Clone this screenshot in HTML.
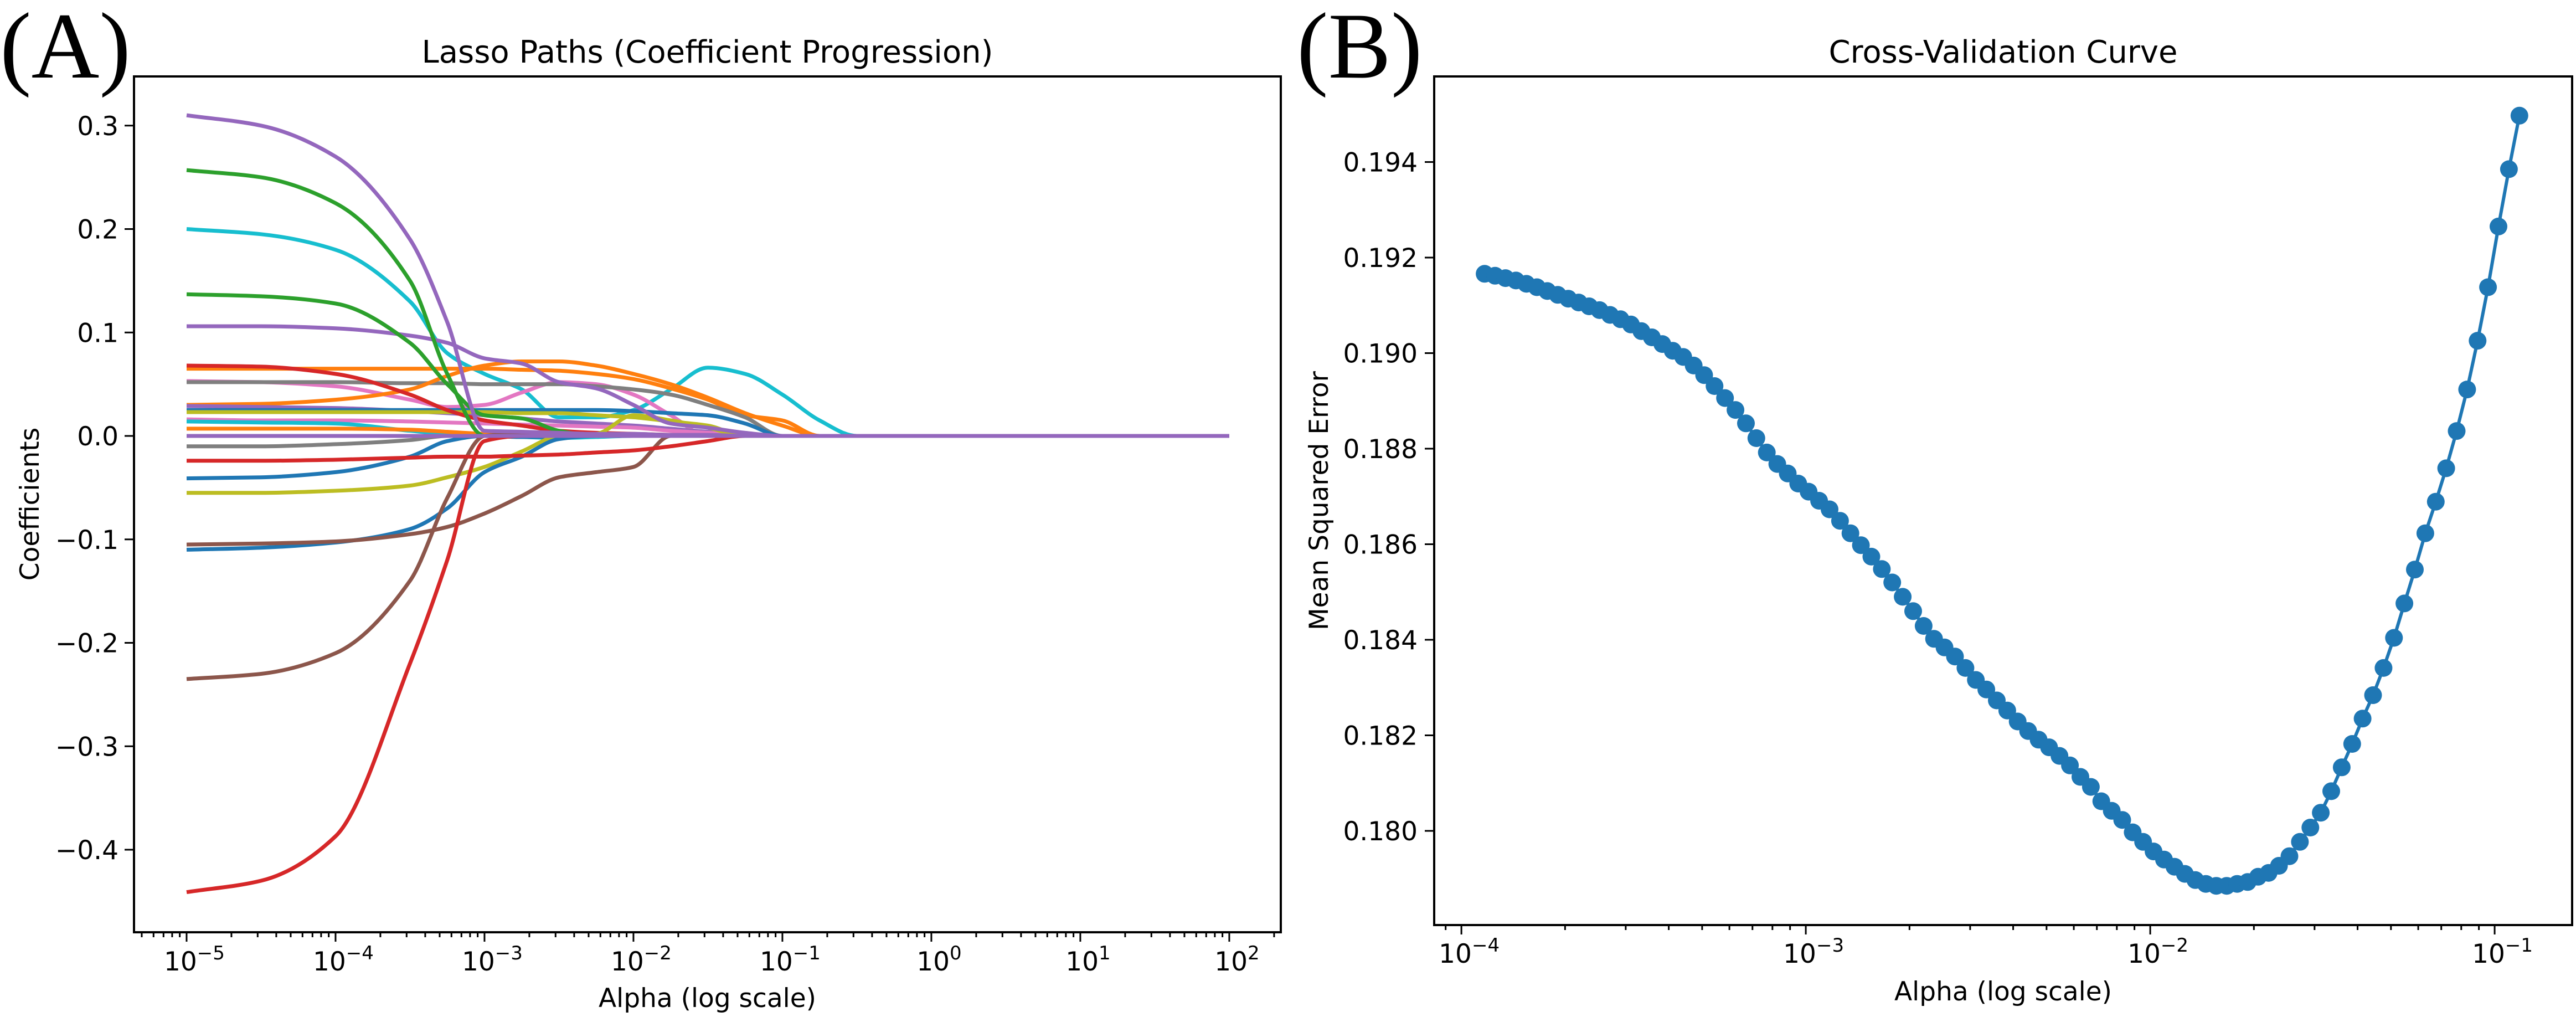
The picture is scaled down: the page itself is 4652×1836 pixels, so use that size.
<!DOCTYPE html>
<html><head><meta charset="utf-8"><style>
html,body{margin:0;padding:0;background:#fff}
svg{display:block}
text{font-family:"DejaVu Sans","Liberation Sans",sans-serif;fill:#000}
</style></head><body>
<svg id="fig" width="4652" height="1836" viewBox="0 0 4652 1836" xmlns="http://www.w3.org/2000/svg">
<rect width="4652" height="1836" fill="#fff"/>
<text x="0" y="140" style="font-family:'Liberation Serif',serif;font-size:170px">(A)</text>
<text x="2342" y="140" style="font-family:'Liberation Serif',serif;font-size:170px">(B)</text>
<g id="pa"></g>
<g id="pb"></g>
</svg>
<script>
// ---------- Panel A data ----------
const lassoLogAlpha = [-5,-4.5,-4,-3.5,-3.25,-3,-2.75,-2.5,-2.25,-2,-1.75,-1.5,-1.25,-1,-0.75,-0.5,-0.25,2];
const lassoColors = ["#17becf","#e377c2","#ff7f0e","#7f7f7f","#ff7f0e","#9467bd","#1f77b4","#bcbd22","#e377c2","#17becf","#ff7f0e","#2ca02c","#7f7f7f","#d62728","#1f77b4","#bcbd22","#1f77b4","#8c564b","#8c564b","#d62728","#d62728","#9467bd","#2ca02c","#2ca02c","#9467bd","#9467bd"];
const lassoSeries = [
 [0.20,0.195,0.18,0.13,0.08,0.06,0.045,0.018,0.018,0.025,0.045,0.066,0.06,0.04,0.015,0,0,0],
 [0.053,0.052,0.048,0.035,0.028,0.03,0.042,0.052,0.05,0.04,0.02,0,0,0,0,0,0,0],
 [0.065,0.065,0.065,0.065,0.065,0.065,0.064,0.063,0.06,0.055,0.046,0.035,0.02,0.015,0,0,0,0],
 [0.052,0.052,0.052,0.051,0.051,0.05,0.05,0.05,0.048,0.045,0.04,0.03,0.018,0,0,0,0,0],
 [0.03,0.031,0.035,0.045,0.058,0.068,0.072,0.072,0.068,0.06,0.05,0.037,0.022,0.01,0,0,0,0],
 [0.029,0.028,0.027,0.024,0.022,0.02,0.017,0.014,0.012,0.01,0.007,0.004,0.002,0,0,0,0,0],
 [0.025,0.025,0.025,0.025,0.025,0.025,0.025,0.025,0.025,0.024,0.022,0.02,0.012,0,0,0,0,0],
 [0.023,0.023,0.023,0.023,0.023,0.023,0.022,0.022,0.02,0.018,0.014,0.01,0,0,0,0,0,0],
 [0.016,0.015,0.015,0.014,0.013,0.012,0.011,0.01,0.009,0.008,0.005,0.003,0.001,0,0,0,0,0],
 [0.014,0.013,0.012,0.005,0.002,0,-0.001,-0.002,-0.001,0,0,0,0,0,0,0,0,0],
 [0.007,0.007,0.007,0.006,0.004,0.002,0.001,0,0,0,0,0,0,0,0,0,0,0],
 [0,0,0,0,0,0,0,0,0,0,0,0,0,0,0,0,0,0],
 [-0.01,-0.01,-0.008,-0.004,0,0,0,0,0,0,0,0,0,0,0,0,0,0],
 [0.068,0.067,0.06,0.04,0.025,0.015,0.01,0.005,0.003,0.002,0.001,0,0,0,0,0,0,0],
 [-0.041,-0.04,-0.035,-0.02,-0.005,0,-0.001,-0.001,0,0,0,0,0,0,0,0,0,0],
 [-0.055,-0.055,-0.053,-0.048,-0.04,-0.03,-0.015,0,0.002,0.02,0.015,0.008,0,0,0,0,0,0],
 [-0.11,-0.108,-0.103,-0.09,-0.07,-0.035,-0.02,-0.003,0,0,0,0,0,0,0,0,0,0],
 [-0.105,-0.104,-0.102,-0.095,-0.088,-0.075,-0.058,-0.04,-0.035,-0.03,0,0,0,0,0,0,0,0],
 [-0.235,-0.23,-0.21,-0.14,-0.06,0,0.002,0.002,0,0,0,0,0,0,0,0,0,0],
 [-0.024,-0.024,-0.023,-0.021,-0.02,-0.02,-0.019,-0.018,-0.016,-0.014,-0.01,-0.005,0,0,0,0,0,0],
 [-0.441,-0.43,-0.387,-0.22,-0.12,-0.005,0,0,0,0,0,0,0,0,0,0,0,0],
 [0.106,0.106,0.104,0.097,0.09,0.075,0.07,0.052,0.046,0.03,0.012,0.008,0.003,0,0,0,0,0],
 [0.137,0.135,0.128,0.09,0.05,0.02,0.017,0.005,0,0,0,0,0,0,0,0,0,0],
 [0.257,0.25,0.225,0.15,0.06,0,0,0,0,0,0,0,0,0,0,0,0,0],
 [0.31,0.30,0.27,0.19,0.11,0.005,0.004,0.003,0.002,0.002,0.001,0.001,0,0,0,0,0,0],
 [0,0,0,0,0,0,0,0,0,0,0,0,0,0,0,0,0,0]
];
const lassoYTicks = [0.3,0.2,0.1,0.0,-0.1,-0.2,-0.3,-0.4];
const lassoYTickLabels = ["0.3","0.2","0.1","0.0","\u22120.1","\u22120.2","\u22120.3","\u22120.4"];
const lassoXTickExps = [-5,-4,-3,-2,-1,0,1,2];
const lassoXTickLabels = ["\u22125","\u22124","\u22123","\u22122","\u22121","0","1","2"];

// ---------- Panel B data ----------
const cvAlphaStart = 1.168e-4, cvAlphaEnd = 0.118;
const cvMSE = [0.19166,0.19162,0.19157,0.19152,0.19145,0.19138,0.19130,0.19122,0.19114,0.19106,
0.19098,0.19090,0.19080,0.19071,0.19060,0.19046,0.19033,0.19019,0.19005,0.18992,
0.18974,0.18954,0.18931,0.18906,0.18881,0.18853,0.18822,0.18792,0.18768,0.18748,
0.18727,0.18710,0.18691,0.18673,0.18649,0.18623,0.18598,0.18574,0.18548,0.18520,
0.18490,0.18460,0.18429,0.18402,0.18384,0.18365,0.18341,0.18316,0.18296,0.18273,
0.18252,0.18229,0.18209,0.18191,0.18175,0.18157,0.18137,0.18113,0.18092,0.18062,
0.18042,0.18023,0.17997,0.17977,0.17957,0.17940,0.17925,0.17910,0.17897,0.17889,
0.17885,0.17885,0.17889,0.17893,0.17904,0.17912,0.17927,0.17947,0.17977,0.18007,
0.18038,0.18083,0.18133,0.18182,0.18235,0.18284,0.18341,0.18404,0.18476,0.18547,
0.18623,0.18689,0.18759,0.18837,0.18924,0.19026,0.19138,0.19265,0.19385,0.19497];
const cvYTicks = [0.180,0.182,0.184,0.186,0.188,0.190,0.192,0.194];
const cvYTickLabels = ["0.180","0.182","0.184","0.186","0.188","0.190","0.192","0.194"];
const cvXTickExps = [-4,-3,-2,-1];
const cvXTickLabels = ["\u22124","\u22123","\u22122","\u22121"];

const NS = "http://www.w3.org/2000/svg";
function mk(parent, tag, attrs){const e=document.createElementNS(NS,tag);for(const k in attrs)e.setAttribute(k,attrs[k]);parent.appendChild(e);return e;}

// monotone cubic (Fritsch-Carlson) path through pixel points
function monoPath(xs, ys){
  const n=xs.length, d=[], m=new Array(n);
  for(let i=0;i<n-1;i++) d.push((ys[i+1]-ys[i])/(xs[i+1]-xs[i]));
  m[0]=d[0]; m[n-1]=d[n-2];
  for(let i=1;i<n-1;i++){
    if(d[i-1]*d[i]<=0) m[i]=0;
    else { const h0=xs[i]-xs[i-1], h1=xs[i+1]-xs[i]; const w1=2*h1+h0, w2=h1+2*h0; m[i]=(w1+w2)/(w1/d[i-1]+w2/d[i]); }
  }
  for(let i=0;i<n-1;i++){ if(d[i]===0){m[i]=0;m[i+1]=0;} }
  let s="M"+xs[0].toFixed(1)+","+ys[0].toFixed(1);
  for(let i=0;i<n-1;i++){
    const h=(xs[i+1]-xs[i])/3;
    s+=" C"+(xs[i]+h).toFixed(1)+","+(ys[i]+m[i]*h).toFixed(1)+" "+(xs[i+1]-h).toFixed(1)+","+(ys[i+1]-m[i+1]*h).toFixed(1)+" "+xs[i+1].toFixed(1)+","+ys[i+1].toFixed(1);
  }
  return s;
}

function drawAxesFrame(g, L, R, T, B, xe0, xe1, xScale, prefix){
  for(let d=Math.floor(xe0); d<=Math.ceil(xe1); d++){
    for(let m=1;m<10;m++){
      const e=d+Math.log10(m);
      if(e<xe0||e>xe1) continue;
      const x=xScale(e);
      const t=mk(g,"line",{x1:x,x2:x,y1:B,y2:B+(m===1?17:9),stroke:"#000","stroke-width":3});
      
      
    }
  }
  const fr=mk(g,"rect",{x:L,y:T,width:R-L,height:B-T,fill:"none",stroke:"#000","stroke-width":4});
  
  
}

// ---------- Panel A ----------
(function(){
  const g=document.getElementById("pa");
  const L=242,R=2313,T=138,B=1683;
  const xe0=-5.353,xe1=2.346;
  const xS=e=>L+(e-xe0)/(xe1-xe0)*(R-L);
  const yS=v=>787-v*1867.5;
  const px=lassoLogAlpha.map(xS);
  lassoSeries.forEach((s,i)=>{
    const p=mk(g,"path",{d:monoPath(px,s.map(yS)),fill:"none",stroke:lassoColors[i],"stroke-width":7,"stroke-linejoin":"round"});
    
    
  });
  drawAxesFrame(g,L,R,T,B,xe0,xe1,xS,"lasso");
  lassoYTicks.forEach((v,i)=>{
    const y=yS(v);
    const t=mk(g,"line",{x1:L-17,x2:L,y1:y,y2:y,stroke:"#000","stroke-width":3});
    
    
    const tx=mk(g,"text",{x:L-28,y:y+17,"text-anchor":"end","font-size":47});
    tx.textContent=lassoYTickLabels[i];
    
    
  });
  lassoXTickExps.forEach((e,i)=>{
    const x=xS(e);
    const tx=mk(g,"text",{x:x+14,y:1752,"text-anchor":"middle","font-size":47});
    tx.innerHTML='10<tspan dy="-20" font-size="34">'+lassoXTickLabels[i]+'</tspan>';
    
    
  });
  const xl=mk(g,"text",{x:(L+R)/2,y:1818,"text-anchor":"middle","font-size":47});
  xl.textContent="Alpha (log scale)";
  
  
  const yl=mk(g,"text",{x:0,y:0,"text-anchor":"middle","font-size":47,transform:"translate(70,910) rotate(-90)"});
  yl.textContent="Coefficients";
  
  
  const ti=mk(g,"text",{x:(L+R)/2,y:113,"text-anchor":"middle","font-size":56});
  ti.textContent="Lasso Paths (Coefficient Progression)";
  
  
})();

// ---------- Panel B ----------
(function(){
  const g=document.getElementById("pb");
  const L=2590,R=4645,T=138,B=1670;
  const xe0=-4.079,xe1=-0.775;
  const xS=e=>L+(e-xe0)/(xe1-xe0)*(R-L);
  const yS=v=>1500-(v-0.180)/0.002*172.5;
  const n=cvMSE.length;
  const la0=Math.log10(cvAlphaStart), la1=Math.log10(cvAlphaEnd);
  const xs=cvMSE.map((v,i)=>xS(la0+(la1-la0)*i/(n-1)));
  const line=mk(g,"polyline",{points:cvMSE.map((v,i)=>xs[i].toFixed(1)+","+yS(v).toFixed(1)).join(" "),fill:"none",stroke:"#1f77b4","stroke-width":6});
  
  
  cvMSE.forEach((v,i)=>{
    const c=mk(g,"circle",{cx:xs[i].toFixed(1),cy:yS(v).toFixed(1),r:16,fill:"#1f77b4"});
    
    
  });
  drawAxesFrame(g,L,R,T,B,xe0,xe1,xS,"cv");
  cvYTicks.forEach((v,i)=>{
    const y=yS(v);
    const t=mk(g,"line",{x1:L-17,x2:L,y1:y,y2:y,stroke:"#000","stroke-width":3});
    
    
    const tx=mk(g,"text",{x:L-30,y:y+17,"text-anchor":"end","font-size":47});
    tx.textContent=cvYTickLabels[i];
    
    
  });
  cvXTickExps.forEach((e,i)=>{
    const x=xS(e);
    const tx=mk(g,"text",{x:x+14,y:1738,"text-anchor":"middle","font-size":47});
    tx.innerHTML='10<tspan dy="-20" font-size="34">'+cvXTickLabels[i]+'</tspan>';
    
    
  });
  const xl=mk(g,"text",{x:(L+R)/2,y:1806,"text-anchor":"middle","font-size":47});
  xl.textContent="Alpha (log scale)";
  
  
  const yl=mk(g,"text",{x:0,y:0,"text-anchor":"middle","font-size":47,transform:"translate(2398,904) rotate(-90)"});
  yl.textContent="Mean Squared Error";
  
  
  const ti=mk(g,"text",{x:(L+R)/2,y:113,"text-anchor":"middle","font-size":56});
  ti.textContent="Cross-Validation Curve";
  
  
})();
</script>
</body></html>
